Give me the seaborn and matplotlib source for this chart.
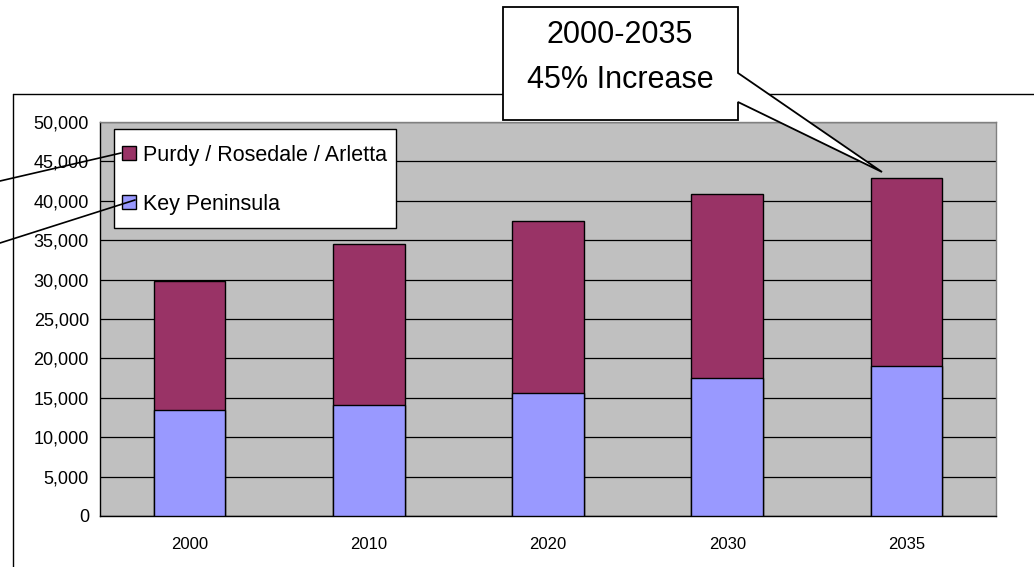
import matplotlib
matplotlib.use("Agg")
import matplotlib.pyplot as plt
import seaborn as sns
import numpy as np
import pandas as pd
from matplotlib.patches import Polygon
from matplotlib.lines import Line2D
from matplotlib.ticker import FuncFormatter

# dados do grafico
anos = ["2000", "2010", "2020", "2030", "2035"]
key_peninsula = [13450, 14100, 15650, 17500, 19000]
purdy_rosedale_arletta = [16350, 20400, 21850, 23400, 23850]
serie_nomes = ["Purdy / Rosedale / Arletta", "Key Peninsula"]
cores = ["#993366", "#9999FF"]
callout_txt = ["2000-2035", "45% Increase"]

totais = [a + b for a, b in zip(key_peninsula, purdy_rosedale_arletta)]
df = pd.DataFrame({"ano": anos, "key": key_peninsula, "total": totais})

sns.set_style("white")
plt.rcParams["font.family"] = ["Liberation Sans", "DejaVu Sans"]
plt.rcParams["text.color"] = "black"
plt.rcParams["xtick.color"] = "black"
plt.rcParams["ytick.color"] = "black"

W, H = 1034, 567
fig = plt.figure(figsize=(W / 100, H / 100), dpi=100)
ax = fig.add_axes([100 / W, 1 - 516 / H, 896 / W, (516 - 122) / H])
ax.set_facecolor("#C0C0C0")

# barras empilhadas: total atras, key na frente
sns.barplot(data=df, x="ano", y="total", color=cores[0], width=0.4,
            edgecolor="black", linewidth=1, saturation=1, ax=ax, zorder=3)
sns.barplot(data=df, x="ano", y="key", color=cores[1], width=0.4,
            edgecolor="black", linewidth=1, saturation=1, ax=ax, zorder=4)

ax.set_xlim(-0.5, 4.5)
ax.set_ylim(0, 50000)
ax.set_yticks(np.arange(0, 50001, 5000))
ax.yaxis.set_major_formatter(FuncFormatter(lambda v, p: f"{int(v):,}"))
ax.yaxis.grid(True, color="black", linewidth=0.9, zorder=1)
ax.set_axisbelow(True)
ax.set_xlabel("")
ax.set_ylabel("")

ax.set_xticks(range(len(anos)))
ax.set_xticklabels(anos)
ax.set_xticks(np.arange(-0.5, 5, 1), minor=True)
ax.tick_params(axis="x", which="major", length=0, pad=15, labelsize=12, labelcolor="black")
ax.tick_params(axis="x", which="minor", length=5, width=1, color="black", direction="out")
ax.tick_params(axis="y", length=5, width=1, color="black", direction="out", pad=3,
               labelsize=13, labelcolor="black")

for s in ["top", "right"]:
    ax.spines[s].set_color("#808080")
    ax.spines[s].set_linewidth(1)
for s in ["left", "bottom"]:
    ax.spines[s].set_color("black")
    ax.spines[s].set_linewidth(1)

# legenda (marcador quadrado)
handles = [Line2D([], [], marker="s", markersize=9.4, linestyle="None",
                  markerfacecolor=c, markeredgecolor="black", markeredgewidth=1, label=n)
           for c, n in zip(cores, serie_nomes)]
leg = ax.legend(handles=handles, loc="upper left",
                bbox_to_anchor=(114 / W, 1 - 128.7 / H), bbox_transform=fig.transFigure,
                borderaxespad=0, fontsize=15.5, handlelength=0.6, handleheight=2.0,
                handletextpad=0.35, labelspacing=0.72, borderpad=0.4,
                fancybox=False, framealpha=1, edgecolor="black")
leg.get_frame().set_linewidth(1)
leg.set_zorder(10)
for t in leg.get_texts():
    t.set_color("black")
# desce um pouco os quadradinhos para alinhar com o texto
for h in leg.legend_handles:
    h.set_ydata(np.asarray(h.get_ydata()) - 3)

def fx(px):
    return px / W

def fy(py):
    return 1 - py / H

# borda externa do grafico
fig.add_artist(Line2D([fx(13), fx(13)], [fy(94), 0], color="black", lw=1))
fig.add_artist(Line2D([fx(13), 1], [fy(94), fy(94)], color="black", lw=1))

# linhas da legenda
fig.add_artist(Line2D([0, fx(121)], [fy(181), fy(153)], color="black", lw=1.2, zorder=20))
fig.add_artist(Line2D([0, fx(135)], [fy(243), fy(200)], color="black", lw=1.2, zorder=20))

# balao
pts = [(503, 7), (738, 7), (738, 73), (882, 172), (738, 102), (738, 120), (503, 120)]
fig.add_artist(Polygon([(fx(x), fy(y)) for x, y in pts], closed=True,
                       facecolor="white", edgecolor="black", lw=1.3, zorder=20))
fig.text(fx(620), fy(43), callout_txt[0], ha="center", va="baseline", fontsize=22,
         color="black", zorder=21)
fig.text(fx(620), fy(88), callout_txt[1], ha="center", va="baseline", fontsize=22,
         color="black", zorder=21)

fig.savefig("out.png", dpi=100)
